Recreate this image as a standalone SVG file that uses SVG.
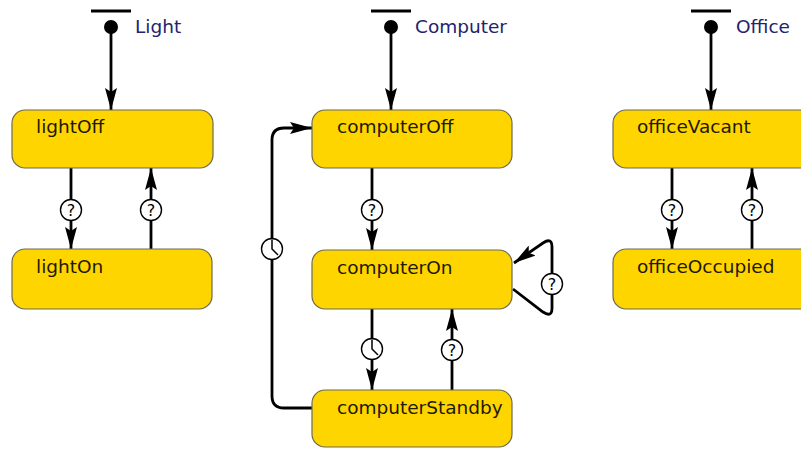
<svg xmlns="http://www.w3.org/2000/svg" width="801" height="449" viewBox="0 0 801 449">
<defs>
<style>
.box{fill:#FFD500;stroke:#6e6a50;stroke-width:1.2}
.st{font-family:"DejaVu Sans",Verdana,sans-serif;font-size:18.5px;fill:#1e1a00}
.lbl{font-family:"DejaVu Sans",Verdana,sans-serif;font-size:18.5px;fill:#23236e}
.ln{fill:none;stroke:#000;stroke-width:2.8}
.bar{stroke:#000;stroke-width:3}
.q{fill:#fff;stroke:#000;stroke-width:1.4}
.qt{font-family:"DejaVu Sans",Verdana,sans-serif;font-size:16px;fill:#000;text-anchor:middle}
.hand{fill:none;stroke:#000;stroke-width:1.5}
</style>
<marker id="ah" viewBox="0 0 22 12" refX="22" refY="6" markerWidth="22" markerHeight="12" markerUnits="userSpaceOnUse" orient="auto">
<path d="M0,0 L22,6 L0,12 L4,6 Z" fill="#000"/>
</marker>
</defs>
<rect width="801" height="449" fill="#fff"/>

<g id="connectors">
<!-- initial arrows -->
<line class="bar" x1="91" y1="11" x2="131" y2="11"/>
<circle cx="111" cy="27" r="7" fill="#000"/>
<line class="ln" x1="111" y1="27" x2="111" y2="110" marker-end="url(#ah)"/>
<line class="bar" x1="371" y1="11" x2="411" y2="11"/>
<circle cx="391" cy="27" r="7" fill="#000"/>
<line class="ln" x1="391" y1="27" x2="391" y2="110" marker-end="url(#ah)"/>
<line class="bar" x1="691" y1="11" x2="731" y2="11"/>
<circle cx="711" cy="27" r="7" fill="#000"/>
<line class="ln" x1="711" y1="27" x2="711" y2="110" marker-end="url(#ah)"/>

<!-- Light -->
<line class="ln" x1="71" y1="168" x2="71" y2="249" marker-end="url(#ah)"/>
<circle class="q" cx="71" cy="210" r="10.5"/><text class="qt" x="71" y="216">?</text>
<line class="ln" x1="151" y1="249" x2="151" y2="168" marker-end="url(#ah)"/>
<circle class="q" cx="151" cy="210" r="10.5"/><text class="qt" x="151" y="216">?</text>

<!-- Computer -->
<line class="ln" x1="372" y1="168" x2="372" y2="250" marker-end="url(#ah)"/>
<circle class="q" cx="372" cy="210" r="10.5"/><text class="qt" x="372" y="216">?</text>
<line class="ln" x1="372" y1="309" x2="372" y2="390" marker-end="url(#ah)"/>
<circle class="q" cx="372" cy="349" r="10.5"/>
<path class="hand" d="M372,339.5 L372,349 L378,355"/>
<line class="ln" x1="452" y1="390" x2="452" y2="309" marker-end="url(#ah)"/>
<circle class="q" cx="452" cy="350" r="10.5"/><text class="qt" x="452" y="356">?</text>
<path class="ln" d="M312,408 L284,408 Q272,408 272,396 L272,140 Q272,128 284,128 L312,128" marker-end="url(#ah)"/>
<circle class="q" cx="272" cy="249" r="10.5"/>
<path class="hand" d="M272,239.5 L272,249 L278,255"/>
<path class="ln" d="M513,289 L543,312 Q552,318 552,308 L552,247 Q552,237 543,243 L514,263" marker-end="url(#ah)"/>
<circle class="q" cx="552" cy="284" r="10.5"/><text class="qt" x="552" y="290">?</text>

<!-- Office -->
<line class="ln" x1="672" y1="168" x2="672" y2="249" marker-end="url(#ah)"/>
<circle class="q" cx="672" cy="210" r="10.5"/><text class="qt" x="672" y="216">?</text>
<line class="ln" x1="752" y1="249" x2="752" y2="168" marker-end="url(#ah)"/>
<circle class="q" cx="752" cy="210" r="10.5"/><text class="qt" x="752" y="216">?</text>
</g>

<text class="lbl" x="135" y="33">Light</text>
<text class="lbl" x="415" y="33">Computer</text>
<text class="lbl" x="736" y="33">Office</text>

<g id="lightOff"><rect class="box" x="12" y="110" width="201" height="58" rx="13"/><text class="st" x="36" y="133">lightOff</text></g>
<g id="lightOn"><rect class="box" x="12" y="249" width="200" height="60" rx="13"/><text class="st" x="36" y="273">lightOn</text></g>
<g id="computerOff"><rect class="box" x="312" y="110" width="200" height="58" rx="13"/><text class="st" x="337" y="133">computerOff</text></g>
<g id="computerOn"><rect class="box" x="312" y="250" width="200" height="59" rx="13"/><text class="st" x="337" y="274">computerOn</text></g>
<g id="computerStandby"><rect class="box" x="312" y="390" width="200" height="57" rx="13"/><text class="st" x="337" y="414">computerStandby</text></g>
<g id="officeVacant"><rect class="box" x="613" y="110" width="200" height="58" rx="13"/><text class="st" x="637" y="133">officeVacant</text></g>
<g id="officeOccupied"><rect class="box" x="613" y="249" width="200" height="60" rx="13"/><text class="st" x="637" y="273">officeOccupied</text></g>
</svg>
